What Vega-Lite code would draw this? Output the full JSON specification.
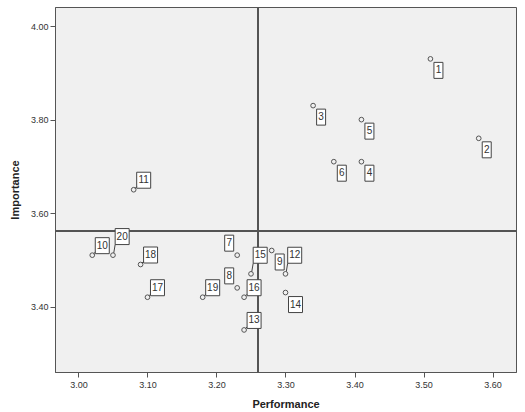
{
  "$schema": "https://vega.github.io/schema/vega-lite/v6.json",
  "width": 461,
  "height": 365,
  "autosize": {"type": "none"},
  "padding": {"left": 55, "top": 7, "right": 9, "bottom": 40},
  "background": "white",
  "config": {
    "view": {"fill": "#f0f0f0", "stroke": "#555555", "strokeWidth": 1},
    "axis": {
      "grid": false,
      "domainColor": "#555555",
      "tickColor": "#555555",
      "labelColor": "#333333",
      "labelFont": "Liberation Sans",
      "labelFontSize": 9,
      "titleFont": "Liberation Sans",
      "titleFontSize": 11,
      "titleFontWeight": "bold",
      "titleColor": "#222222",
      "tickSize": 5
    }
  },
  "data": {
    "values": [
      {"id": 1, "performance": 3.51, "importance": 3.93},
      {"id": 2, "performance": 3.58, "importance": 3.76},
      {"id": 3, "performance": 3.34, "importance": 3.83},
      {"id": 4, "performance": 3.41, "importance": 3.71},
      {"id": 5, "performance": 3.41, "importance": 3.80},
      {"id": 6, "performance": 3.37, "importance": 3.71},
      {"id": 7, "performance": 3.23, "importance": 3.51},
      {"id": 8, "performance": 3.23, "importance": 3.44},
      {"id": 9, "performance": 3.28, "importance": 3.52},
      {"id": 10, "performance": 3.02, "importance": 3.51},
      {"id": 11, "performance": 3.08, "importance": 3.65},
      {"id": 12, "performance": 3.30, "importance": 3.47},
      {"id": 13, "performance": 3.24, "importance": 3.35},
      {"id": 14, "performance": 3.30, "importance": 3.43},
      {"id": 15, "performance": 3.25, "importance": 3.47},
      {"id": 16, "performance": 3.24, "importance": 3.42},
      {"id": 17, "performance": 3.10, "importance": 3.42},
      {"id": 18, "performance": 3.09, "importance": 3.49},
      {"id": 19, "performance": 3.18, "importance": 3.42},
      {"id": 20, "performance": 3.05, "importance": 3.51}
    ]
  },
  "layer": [
    {
      "mark": {"type": "point", "shape": "circle", "size": 22, "filled": false, "stroke": "#555555", "strokeWidth": 1, "opacity": 1},
      "encoding": {
        "x": {"field": "performance", "type": "quantitative", "title": "Performance",
              "scale": {"domain": [2.966, 3.634], "nice": false, "zero": false},
              "axis": {"values": [3.0, 3.1, 3.2, 3.3, 3.4, 3.5, 3.6], "format": ".2f", "labelPadding": 3, "titlePadding": 9}},
        "y": {"field": "importance", "type": "quantitative", "title": "Importance",
              "scale": {"domain": [3.26, 4.041], "nice": false, "zero": false},
              "axis": {"values": [3.4, 3.6, 3.8, 4.0], "format": ".2f", "labelPadding": 2, "titlePadding": 10}}
      }
    },
    {
      "mark": {"type": "rule", "color": "#555555", "strokeWidth": 1},
      "encoding": {"x": {"datum": 3.26, "type": "quantitative", "title": "Performance"}}
    },
    {
      "mark": {"type": "rule", "color": "#555555", "strokeWidth": 1},
      "encoding": {"y": {"datum": 3.562, "type": "quantitative", "title": "Importance"}}
    },
    {
      "transform": [{"filter": {"field": "id", "oneOf": [1, 2, 3, 4, 5, 6, 9]}}],
      "mark": {"type": "point", "shape": "M3.5,3.5H12.5V19.5H3.5Z", "size": 4, "filled": true, "fill": "white", "stroke": "#444444", "strokeWidth": 1, "opacity": 1},
      "encoding": {
        "x": {"field": "performance", "type": "quantitative", "title": "Performance"},
        "y": {"field": "importance", "type": "quantitative", "title": "Importance"}
      }
    },
    {
      "transform": [{"filter": {"field": "id", "oneOf": [14]}}],
      "mark": {"type": "point", "shape": "M3,4H17V20H3Z", "size": 4, "filled": true, "fill": "white", "stroke": "#444444", "strokeWidth": 1, "opacity": 1},
      "encoding": {
        "x": {"field": "performance", "type": "quantitative", "title": "Performance"},
        "y": {"field": "importance", "type": "quantitative", "title": "Importance"}
      }
    },
    {
      "transform": [{"filter": {"field": "id", "oneOf": [7, 8]}}],
      "mark": {"type": "point", "shape": "M-12.5,-20H-3.5V-4H-12.5Z", "size": 4, "filled": true, "fill": "white", "stroke": "#444444", "strokeWidth": 1, "opacity": 1},
      "encoding": {
        "x": {"field": "performance", "type": "quantitative", "title": "Performance"},
        "y": {"field": "importance", "type": "quantitative", "title": "Importance"}
      }
    },
    {
      "transform": [{"filter": {"field": "id", "oneOf": [10, 11, 13, 16, 17, 18, 19]}}],
      "mark": {"type": "point", "shape": "M3,-17.5H17V-1.5H3Z M1.4,-1.4L3,-3", "size": 4, "filled": true, "fill": "white", "stroke": "#444444", "strokeWidth": 1, "opacity": 1},
      "encoding": {
        "x": {"field": "performance", "type": "quantitative", "title": "Performance"},
        "y": {"field": "importance", "type": "quantitative", "title": "Importance"}
      }
    },
    {
      "transform": [{"filter": {"field": "id", "oneOf": [12, 15, 20]}}],
      "mark": {"type": "point", "shape": "M2.2,-26.6H16.2V-10.6H2.2Z M0.8,-2.3L2.2,-10.6", "size": 4, "filled": true, "fill": "white", "stroke": "#444444", "strokeWidth": 1, "opacity": 1},
      "encoding": {
        "x": {"field": "performance", "type": "quantitative", "title": "Performance"},
        "y": {"field": "importance", "type": "quantitative", "title": "Importance"}
      }
    },
    {
      "transform": [{"filter": {"field": "id", "oneOf": [1, 2, 3, 4, 5, 6, 9]}}],
      "mark": {"type": "text", "dx": 8, "dy": 11.5, "align": "center", "baseline": "middle", "font": "Liberation Sans", "fontSize": 10, "color": "#333333"},
      "encoding": {
        "x": {"field": "performance", "type": "quantitative", "title": "Performance"},
        "y": {"field": "importance", "type": "quantitative", "title": "Importance"},
        "text": {"field": "id", "type": "nominal"}
      }
    },
    {
      "transform": [{"filter": {"field": "id", "oneOf": [14]}}],
      "mark": {"type": "text", "dx": 10, "dy": 12, "align": "center", "baseline": "middle", "font": "Liberation Sans", "fontSize": 10, "color": "#333333"},
      "encoding": {
        "x": {"field": "performance", "type": "quantitative", "title": "Performance"},
        "y": {"field": "importance", "type": "quantitative", "title": "Importance"},
        "text": {"field": "id", "type": "nominal"}
      }
    },
    {
      "transform": [{"filter": {"field": "id", "oneOf": [7, 8]}}],
      "mark": {"type": "text", "dx": -8, "dy": -12, "align": "center", "baseline": "middle", "font": "Liberation Sans", "fontSize": 10, "color": "#333333"},
      "encoding": {
        "x": {"field": "performance", "type": "quantitative", "title": "Performance"},
        "y": {"field": "importance", "type": "quantitative", "title": "Importance"},
        "text": {"field": "id", "type": "nominal"}
      }
    },
    {
      "transform": [{"filter": {"field": "id", "oneOf": [10, 11, 13, 16, 17, 18, 19]}}],
      "mark": {"type": "text", "dx": 10, "dy": -9.5, "align": "center", "baseline": "middle", "font": "Liberation Sans", "fontSize": 10, "color": "#333333"},
      "encoding": {
        "x": {"field": "performance", "type": "quantitative", "title": "Performance"},
        "y": {"field": "importance", "type": "quantitative", "title": "Importance"},
        "text": {"field": "id", "type": "nominal"}
      }
    },
    {
      "transform": [{"filter": {"field": "id", "oneOf": [12, 15, 20]}}],
      "mark": {"type": "text", "dx": 9.2, "dy": -18.6, "align": "center", "baseline": "middle", "font": "Liberation Sans", "fontSize": 10, "color": "#333333"},
      "encoding": {
        "x": {"field": "performance", "type": "quantitative", "title": "Performance"},
        "y": {"field": "importance", "type": "quantitative", "title": "Importance"},
        "text": {"field": "id", "type": "nominal"}
      }
    }
  ]
}
